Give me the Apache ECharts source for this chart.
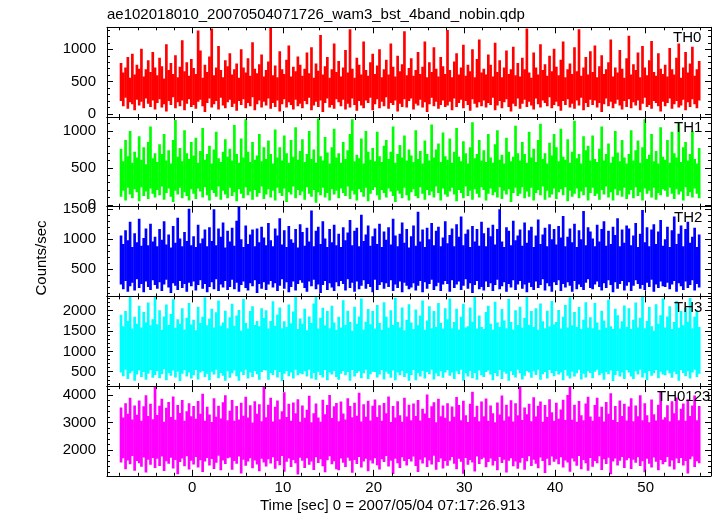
<!DOCTYPE html>
<html><head><meta charset="utf-8">
<script src="https://cdn.jsdelivr.net/npm/echarts@6/dist/echarts.min.js"></script>
<style>html,body{margin:0;padding:0;background:#fff}#c{width:717px;height:516px}</style>
</head><body><div id="c"></div>
<script>
// time bins of the light curves (sec from 2007/05/04 07:17:26.913); for each bin the
// lowest and highest count rate reached by the unbinned curve
const T0 = -8, DT = 0.25;
const TH0_HIGH = [
790,640,720,880,560,930,610,760,700,1010,580,690,830,650,960,720,
600,870,740,550,1080,680,790,620,910,570,730,1140,660,800,590,850,
710,620,1290,980,560,760,650,890,1320,600,720,1050,680,570,830,740,
940,610,690,780,560,1000,720,640,860,590,1110,700,630,770,920,580,
680,810,1340,600,750,570,970,690,620,840,1060,580,730,660,890,760,
590,700,950,630,1030,560,780,670,1220,610,740,880,560,690,1090,650,
820,580,720,990,640,1310,700,560,870,760,610,1120,680,590,800,930,
620,750,1000,570,690,840,610,1090,730,580,900,660,770,1280,600,710,
860,590,680,960,620,730,1120,570,800,650,1030,700,580,880,740,620,
1300,680,570,810,940,610,720,1070,590,760,660,1000,570,850,1150,640,
700,610,920,760,580,1100,650,830,570,720,980,620,690,1040,600,790,
580,870,690,1320,640,560,950,720,610,1080,680,770,590,900,660,1010,
730,600,840,1120,570,690,780,620,1030,660,1310,590,720,880,610,970,
650,1060,570,740,910,620,690,800,1150,580,720,640,990,700,560,860,
1210,610,770,680,950,570,1050,720,600,830,1130,650,590,940,700,620,
760,580,1020,690,610,870,1090,560,720,960,640,780,1040,590,690,820];
const TH0_LOW = [
200,120,250,80,180,150,60,220,130,190,90,240,160,110,210,70,
170,230,100,150,40,200,140,260,90,180,120,210,60,160,230,110,
140,80,190,220,120,30,170,240,100,150,200,70,250,130,90,180,
220,110,160,50,200,140,230,90,170,120,260,60,150,210,100,190,
130,240,80,170,110,210,40,150,230,100,180,140,70,220,120,160,
90,200,150,250,60,130,190,110,210,30,170,240,100,140,80,230,
180,120,220,70,160,100,240,140,50,200,130,90,210,170,250,60,
150,230,90,190,120,260,80,170,140,210,40,160,110,230,100,200,
240,70,160,130,220,100,180,30,150,250,120,190,80,140,210,110,
130,190,60,240,110,170,220,90,200,140,50,230,160,100,180,120,
210,100,170,140,250,60,130,200,90,180,230,110,40,160,120,240,
80,160,220,110,190,130,70,240,150,100,210,170,120,260,90,140,
190,120,50,200,140,230,100,160,80,210,130,250,60,170,110,220,
140,210,100,170,30,150,240,120,190,90,160,220,130,70,200,110,
230,90,180,130,210,60,160,250,110,140,80,200,170,120,40,190,
120,170,240,80,150,200,100,130,220,60,180,110,230,150,90,210];
const TH1_HIGH = [
760,590,880,660,1000,570,720,640,930,610,780,550,850,1060,630,700,
580,820,690,960,600,740,560,880,1150,650,770,590,1010,700,620,850,
670,910,570,730,1040,610,690,800,560,750,990,630,580,720,890,650,
760,600,1080,690,570,900,640,1160,720,580,850,610,670,960,590,780,
620,870,690,560,1020,640,780,600,940,700,570,880,650,1050,610,730,
890,580,690,1000,620,750,570,1170,660,600,920,710,560,780,1030,640,
700,570,850,620,740,960,1160,590,680,630,900,560,1000,720,610,770,
590,990,660,580,800,880,620,720,1060,570,690,810,640,940,600,750,
670,580,1010,620,730,560,870,690,600,1090,640,750,830,580,980,660,
610,900,570,720,1040,650,590,860,700,560,780,1120,630,690,880,600,
740,580,960,640,570,820,1010,610,680,560,910,720,590,650,1070,700,
600,850,690,570,990,640,760,580,880,1100,620,700,560,840,670,960,
780,590,1030,650,610,890,570,720,1140,630,690,560,930,740,800,600,
940,620,580,760,1060,600,690,830,570,650,1000,710,590,880,640,560,
690,1010,600,740,870,570,780,1160,620,680,960,590,730,560,1050,650,
610,880,570,990,700,640,1110,580,780,850,600,690,1000,620,560,770];
const TH1_LOW = [
110,190,60,230,140,90,210,170,50,240,120,180,80,220,150,100,
200,130,250,70,160,220,110,40,190,140,230,90,170,120,60,210,
150,80,220,180,100,240,130,60,200,160,110,250,70,190,140,90,
230,120,170,50,210,150,90,240,130,180,70,200,110,160,250,80,
140,210,100,190,60,230,160,120,220,40,170,140,250,90,200,130,
180,70,240,150,110,200,30,170,130,230,100,160,60,210,140,190,
90,220,160,120,250,80,190,140,60,210,170,110,230,50,150,200,
240,130,70,200,160,100,220,180,120,40,190,150,90,230,130,60,
170,210,120,90,240,150,70,200,130,180,100,250,160,60,220,140,
110,180,230,140,50,200,160,90,250,120,190,70,210,150,100,240,
200,60,150,220,130,170,100,240,80,190,140,210,40,160,230,120,
150,240,90,180,110,230,60,160,200,130,250,70,190,100,140,220,
80,170,210,130,240,50,190,110,150,220,90,180,130,240,60,160,
230,120,150,70,200,140,250,100,170,60,210,130,190,110,230,80,
140,200,90,240,120,170,60,220,150,190,100,230,70,160,130,210,
190,110,230,150,80,210,140,180,60,240,120,170,100,220,150,90];
const TH2_HIGH = [
1060,920,1150,980,1290,870,1100,950,1340,890,1020,1180,900,1260,960,1040,
880,1170,990,1300,910,1080,860,1220,940,1360,1010,880,1120,970,1510,900,
1050,870,1240,930,1010,1160,880,1200,970,1500,900,1180,1040,1280,860,1140,
960,1190,890,1310,1540,1000,870,1230,920,1080,1160,880,1180,950,1210,1030,
900,1270,980,880,1180,1060,1350,910,1150,870,1220,1000,940,1170,860,1250,
1120,890,1190,960,1480,880,1140,1210,920,1300,1010,870,1170,950,1240,900,
1090,870,1200,980,1110,1320,900,1140,1190,880,1410,970,1080,1230,890,1050,
1180,920,1260,870,1130,990,1200,910,1340,1060,880,1090,1280,940,1170,860,
1050,1230,890,1460,960,1160,870,1190,1000,1270,900,1140,1210,880,1030,1300,
930,1070,1180,880,1250,1040,1380,900,1090,1160,870,1220,960,1170,890,1290,
1100,880,1190,1050,1240,910,1170,1500,960,870,1200,1140,900,1310,980,1060,
1160,890,1280,940,1150,1210,870,1060,1330,920,1080,1190,880,1250,1000,1170,
910,1220,1030,1390,880,1040,1180,950,1260,870,1150,1000,1470,900,1200,1130,
1010,880,1240,960,1170,1300,890,1140,920,1210,1070,1350,880,1160,940,1230,
1180,900,1060,1270,870,1090,1490,950,1200,880,1160,1250,920,1130,1320,890,
1000,1210,870,1150,1380,920,1090,1230,880,1170,1290,940,1040,1190,870,1080];
const TH2_LOW = [
240,160,300,120,210,270,140,330,180,250,110,290,200,150,310,230,
170,280,130,240,320,190,100,260,220,150,300,180,250,120,270,210,
290,140,230,310,170,250,110,200,280,160,330,130,240,190,300,150,
200,320,160,270,120,230,290,180,140,260,210,310,100,250,170,280,
150,240,300,190,260,130,220,330,170,280,110,200,290,140,250,310,
270,180,120,290,210,320,160,240,100,230,300,150,260,190,130,280,
210,300,250,140,330,180,270,120,290,160,220,310,170,250,200,110,
320,150,230,280,170,260,200,310,130,240,180,290,110,270,220,160,
190,260,140,220,300,110,280,170,250,320,150,210,270,130,240,300,
250,120,310,180,240,290,150,220,330,170,260,100,230,300,160,200,
140,290,200,260,130,230,320,160,210,280,120,250,190,310,150,240,
300,170,240,110,270,200,150,290,180,230,330,140,260,210,120,280,
230,310,130,250,190,280,220,120,300,160,240,200,150,270,330,180,
160,240,290,200,140,260,180,310,230,110,280,170,250,300,140,220,
280,130,220,310,250,170,230,150,270,200,320,120,240,180,290,210,
200,270,160,240,300,120,260,210,150,290,180,230,310,140,250,190];
const TH3_HIGH = [
1900,1620,1990,1750,2350,1560,1850,1680,2120,1590,1970,1710,2200,1640,1790,2340,
1670,2010,1530,1860,2150,1650,1920,2280,1580,1790,1680,2060,1540,1830,2190,1660,
1780,1520,2100,1700,1850,2330,1640,1800,2050,1590,1960,2250,1630,1710,2000,1570,
1840,2170,1630,1880,2020,1510,2290,1700,1560,1990,2110,1650,1750,1620,2060,1820,
2010,1560,1750,2230,1630,1900,2080,1570,1740,1600,2150,1690,1980,2340,1550,1810,
1680,2050,1520,1860,1700,2180,2350,1560,1830,2070,1640,1990,1570,2120,1710,1530,
1850,1590,2260,1650,2000,1720,1510,2100,1680,1860,2300,1540,1730,2040,1670,1990,
1560,2140,1700,1530,2210,1850,1580,2010,1650,2320,1720,1590,2080,1520,1770,2160,
1710,1550,2030,1640,1880,2250,1530,1760,2110,1570,1990,1600,2190,1700,1560,2060,
1790,2300,1570,1720,2050,1540,1850,2170,1590,1620,2080,1730,2340,1560,1880,1600,
1550,1970,2120,1680,1540,2220,1710,1600,2040,1760,1570,2290,1720,1540,2010,1650,
2100,1580,1830,2350,1650,1990,1600,2060,1530,2180,1740,1570,2000,1610,2240,1660,
1720,2020,1560,1850,2140,1590,2330,1640,1970,1600,2090,1550,1780,2210,1580,1840,
1570,2190,1710,1530,2000,1760,1580,2270,1620,1550,2050,1890,1560,1740,2130,1600,
2060,1550,1780,2200,1590,1830,2340,1570,1750,2090,1620,1510,2160,1680,1890,2300,
1590,1860,2110,1550,1720,2240,1580,1990,1640,2070,1730,2310,1570,1850,2020,1600];
const TH3_LOW = [
480,390,550,320,460,510,280,430,530,370,490,300,450,540,350,420,
520,340,440,560,290,470,400,530,360,500,270,450,540,380,480,330,
410,540,310,480,520,370,450,290,500,430,550,340,470,400,280,510,
350,460,530,390,280,500,420,550,330,480,370,520,440,300,490,540,
530,300,470,420,540,360,490,270,450,520,390,480,330,550,410,460,
440,510,380,550,330,470,300,500,420,360,540,290,480,430,520,370,
300,450,520,410,490,280,540,380,470,510,340,460,550,320,440,500,
490,360,430,540,310,500,450,350,530,290,480,410,520,370,460,280,
420,540,290,470,380,520,330,490,440,550,310,460,390,510,350,480,
540,400,480,320,510,440,550,280,460,380,520,340,470,300,530,410,
370,490,530,430,290,470,390,540,320,500,450,280,510,420,360,550,
460,310,400,520,480,350,510,420,550,300,440,490,330,540,470,390,
520,430,480,290,540,400,330,500,380,460,550,310,450,360,510,470,
340,500,550,410,460,300,490,440,530,270,420,520,380,480,320,540,
480,380,320,510,430,550,360,470,290,520,400,460,540,340,500,430,
410,530,460,350,500,440,280,540,470,390,510,330,480,550,370,450];
const TH0123_HIGH = [
3550,3180,3700,3320,3900,3110,3620,3280,3800,3060,3590,3990,3240,3680,3120,4300,
3270,3610,3860,3030,3540,3750,3200,3950,3100,3640,3350,3820,3060,3410,3700,3230,
3600,3140,3780,3320,4050,3060,3570,3290,3020,3880,3210,3610,3150,3740,3990,3080,
3430,3820,3060,3600,3110,3720,3250,3940,3180,3630,3000,3770,3320,3660,3050,4310,
3190,3650,3900,3040,3570,3800,3120,3410,4100,3200,3680,3060,3730,3340,3850,3030,
3620,3170,3460,3970,3010,3340,3690,3180,3030,3830,3300,3640,4000,3160,3590,3710,
3050,3760,3330,3110,3880,3600,3190,3720,3250,4080,3040,3660,3210,3790,3070,3610,
3840,3200,3630,3060,3710,3340,3950,3020,3600,3180,3770,3260,3030,3900,3220,3650,
3080,3690,3240,3820,3070,3500,3330,4020,3160,3590,3740,3010,3860,3230,3620,3170,
3700,3050,3580,3210,3930,3640,3080,3790,3260,3020,3680,4120,3200,3610,3050,3760,
3230,3870,3060,3620,3340,3010,3730,3290,3980,3070,3650,3220,3810,3040,3700,3260,
4310,3090,3550,3300,3680,3050,3920,3220,3610,3760,3030,3640,3200,3850,3370,3060,
3720,3140,3470,3830,3090,4000,4290,3100,3650,3030,3780,3260,3080,3690,3940,3220,
3060,3640,3900,3210,3570,3040,3750,3320,4060,3090,3600,3020,3800,3240,3680,3070,
3580,3880,3050,3620,3230,3990,3080,3700,3260,3010,3840,3300,3070,3650,4150,3110,
3190,3630,3050,3770,3340,3910,3080,3500,3690,3060,3850,3240,3620,3980,3080,3600];
const TH0123_LOW = [
1550,1700,1300,1620,1480,1780,1250,1600,1520,1390,1730,1180,1650,1460,1710,1350,
1680,1420,1760,1240,1590,1500,1720,1330,1640,1120,1560,1690,1410,1770,1290,1610,
1470,1750,1360,1630,1200,1580,1710,1440,1670,1310,1540,1790,1260,1620,1490,1700,
1730,1280,1600,1500,1760,1150,1650,1430,1580,1700,1340,1620,1470,1230,1680,1550,
1400,1660,1510,1740,1320,1600,1450,1780,1210,1570,1690,1380,1640,1520,1110,1720,
1610,1350,1700,1460,1580,1270,1740,1530,1660,1410,1190,1630,1770,1480,1590,1300,
1260,1690,1540,1380,1720,1610,1170,1640,1490,1750,1360,1580,1680,1230,1620,1510,
1700,1450,1290,1660,1560,1780,1400,1610,1130,1680,1520,1350,1740,1600,1440,1670,
1580,1760,1420,1200,1650,1510,1730,1380,1620,1470,1790,1280,1560,1690,1330,1600,
1430,1620,1750,1500,1300,1680,1570,1140,1710,1460,1640,1550,1220,1760,1490,1660,
1720,1370,1560,1690,1440,1600,1260,1750,1530,1650,1180,1610,1700,1410,1580,1320,
1540,1710,1280,1590,1770,1420,1650,1500,1340,1730,1600,1160,1680,1450,1760,1570,
1660,1480,1740,1360,1620,1550,1210,1690,1580,1430,1780,1300,1640,1520,1250,1710,
1390,1600,1520,1770,1270,1660,1490,1720,1120,1580,1690,1440,1610,1750,1350,1630,
1700,1310,1650,1540,1740,1420,1590,1190,1680,1500,1360,1730,1570,1260,1640,1480,
1560,1750,1400,1620,1290,1690,1530,1710,1440,1600,1150,1660,1760,1380,1590,1520];
const BAND_NAMES = ['TH0','TH1','TH2','TH3','TH0123'];
const TITLE = 'ae102018010_20070504071726_wam3_bst_4band_nobin.qdp';
const X_NAME = 'Time [sec] 0 = 2007/05/04 07:17:26.913';
const Y_NAME = 'Counts/sec';

const FONT = 'Liberation Sans, Arial, Helvetica, sans-serif';
const X_MIN = -9.4, X_MAX = 57.2;
const panels = [
  {low: TH0_LOW, high: TH0_HIGH, color: '#ff0000', min: -46, max: 1340, major: 500, minor: 100, labelX: 673},
  {low: TH1_LOW, high: TH1_HIGH, color: '#00ff00', min: -25, max: 1190, major: 500, minor: 100, labelX: 674},
  {low: TH2_LOW, high: TH2_HIGH, color: '#0000ff', min: 41, max: 1544, major: 500, minor: 100, labelX: 674},
  {low: TH3_LOW, high: TH3_HIGH, color: '#00ffff', min: 146, max: 2352, major: 500, minor: 100, labelX: 674},
  {low: TH0123_LOW, high: TH0123_HIGH, color: '#ff00ff', min: 1062, max: 4324, major: 1000, minor: 200, labelX: 657}
];
const tops = [27.3, 117, 206.7, 296.4, 386.1];
const H = 89.7;
const plain = v => String(Math.round(v * 1000) / 1000);

const grid = [], xAxis = [], yAxis = [], series = [], graphic = [];
panels.forEach((p, g) => {
  grid.push({left: 107, right: 6, top: tops[g], height: H});
  const last = g === panels.length - 1;
  [['bottom', true], ['bottom', false], ['top', true], ['top', false]].forEach(([pos, major]) => {
    xAxis.push({
      type: 'value', gridIndex: g, position: pos, min: X_MIN, max: X_MAX,
      minInterval: major ? 10 : 2, maxInterval: major ? 10 : 2, splitNumber: major ? 7 : 33,
      axisLine: {show: major, onZero: false, lineStyle: {color: '#000', width: 1}},
      axisTick: {show: true, inside: true, length: major ? 6 : 3, lineStyle: {color: '#000'}},
      axisLabel: {show: last && pos === 'bottom' && major, showMinLabel: false, showMaxLabel: false,
        formatter: plain, color: '#000', fontSize: 15, fontFamily: FONT, margin: 5},
      splitLine: {show: false}, z: 5
    });
  });
  [['left', true], ['left', false], ['right', true], ['right', false]].forEach(([pos, major]) => {
    yAxis.push({
      type: 'value', gridIndex: g, position: pos, min: p.min, max: p.max,
      minInterval: major ? p.major : p.minor, maxInterval: major ? p.major : p.minor,
      splitNumber: major ? 3 : 15,
      axisLine: {show: major, onZero: false, lineStyle: {color: '#000', width: 1}},
      axisTick: {show: true, inside: true, length: major ? 6 : 3, lineStyle: {color: '#000'}},
      axisLabel: {show: pos === 'left' && major, showMinLabel: false, showMaxLabel: false,
        formatter: plain, color: '#000', fontSize: 15, fontFamily: FONT, margin: 11},
      splitLine: {show: false}, z: 5
    });
  });
  const bins = p.low.map((lo, i) => [T0 + i * DT, lo, p.high[i]]);
  const color = p.color;
  series.push({
    type: 'custom', xAxisIndex: g * 4, yAxisIndex: g * 4, animation: false, clip: true, z: 2,
    encode: {x: 0, y: [1, 2]},
    renderItem: (params, api) => {
      const t = api.value(0);
      const p0 = api.coord([t, api.value(2)]);
      const p1 = api.coord([t + DT, api.value(1)]);
      return {type: 'rect', shape: {x: p0[0], y: p0[1], width: p1[0] - p0[0] + 0.4, height: p1[1] - p0[1]},
        style: {fill: color}};
    },
    data: bins
  });
  graphic.push({type: 'text', x: p.labelX, y: tops[g] + 11, z: 100,
    style: {text: BAND_NAMES[g], fill: '#000', fontSize: 15, fontFamily: FONT, align: 'left', verticalAlign: 'middle'}});
});
graphic.push({type: 'text', x: 107, y: 14.5, style: {text: TITLE, fill: '#000', fontSize: 15, fontFamily: FONT, align: 'left', verticalAlign: 'middle'}});
graphic.push({type: 'text', x: 260, y: 506, style: {text: X_NAME, fill: '#000', fontSize: 15, fontFamily: FONT, align: 'left', verticalAlign: 'middle'}});
graphic.push({type: 'text', x: 42, y: 258, rotation: Math.PI / 2, style: {text: Y_NAME, fill: '#000', fontSize: 15, fontFamily: FONT, align: 'center', verticalAlign: 'middle'}});

const chart = echarts.init(document.getElementById('c'), null, {renderer: 'canvas'});
chart.setOption({animation: false, backgroundColor: '#fff', grid, xAxis, yAxis, series, graphic});
</script></body></html>
